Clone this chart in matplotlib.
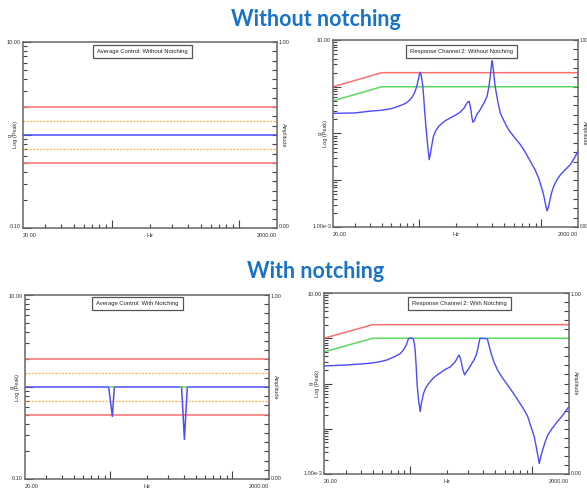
import matplotlib
matplotlib.use('Agg')
import matplotlib.pyplot as plt
from matplotlib.ticker import FixedLocator, MultipleLocator, NullFormatter

# ---- data ----
span_f = [20, 2000]
ctrl_ref = [1.0, 1.0]
abort_hi = [2.0, 2.0]
abort_lo = [0.5, 0.5]
alarm_hi = [1.41, 1.41]
alarm_lo = [0.71, 0.71]

# control with notching
notch_f = [20, 97, 104, 108, 384, 405, 428, 2000]
notch_ctrl = [1.0, 1.0, 0.48, 1.0, 1.0, 0.27, 1.0, 1.0]
notch_top = [(99, 108), (374, 425)]

# response channel limits
lim_f = [20, 50, 2000]
resp_abort = [1.0, 2.0, 2.0]
resp_limit = [0.5, 1.0, 1.0]

# response channel 2 without notching
free_f = [20, 30, 40, 50, 60, 70, 78, 84, 88, 92, 95.7, 98, 100, 101.5, 103,
          104.5, 106, 108, 110, 112, 114.5, 117, 119.5, 122, 124.5, 127, 132,
          138, 146, 155, 165, 181, 199, 219, 235, 248, 254, 258, 262, 268, 273,
          278, 285, 300, 315, 329, 345, 362, 372, 380, 388, 394, 397, 402, 409,
          418, 428, 445, 464, 500, 542, 600, 676, 750, 816, 890, 953, 1000,
          1047, 1085, 1117, 1145, 1173, 1215, 1265, 1340, 1436, 1580, 1731,
          1870, 2000]
free_g = [0.27, 0.275, 0.30, 0.315, 0.34, 0.39, 0.44, 0.51, 0.59, 0.72, 0.94,
          1.2, 1.54, 1.85, 2.04, 1.85, 1.5, 1.05, 0.6, 0.30, 0.15, 0.080, 0.045,
          0.0275, 0.036, 0.049, 0.087, 0.115, 0.143, 0.165, 0.188, 0.215, 0.245,
          0.288, 0.35, 0.45, 0.48, 0.49, 0.42, 0.30, 0.21, 0.174, 0.19, 0.26,
          0.31, 0.38, 0.47, 0.625, 0.9, 1.31, 2.1, 3.1, 3.6, 3.1, 2.14, 1.2,
          0.80, 0.45, 0.275, 0.18, 0.121, 0.085, 0.058, 0.038, 0.0254, 0.017,
          0.0112, 0.0075, 0.0049, 0.0031, 0.0022, 0.0026, 0.0035, 0.0053,
          0.0074, 0.0100, 0.0131, 0.017, 0.0215, 0.030, 0.042]

# response channel 2 with notching
ntch_f = [20, 30.7, 40, 47.6, 56, 65, 75, 84, 89, 94, 96, 98, 100, 105, 107,
          109, 111, 113, 115, 118, 122, 125, 130, 136, 143, 155, 168, 179, 196,
          216, 235, 247, 252, 258, 264, 272, 281, 292, 305, 320, 335, 350, 361,
          368, 375, 380, 420, 432, 440, 459, 485, 521, 570, 630, 700, 760, 840,
          918, 980, 1041, 1090, 1143, 1180, 1219, 1280, 1340, 1450, 1564, 1780,
          2000]
ntch_g = [0.244, 0.257, 0.27, 0.28, 0.30, 0.33, 0.39, 0.46, 0.55, 0.71, 0.85,
          0.98, 1.0, 1.0, 0.97, 0.8, 0.55, 0.25, 0.10, 0.045, 0.024, 0.038,
          0.061, 0.082, 0.10, 0.13, 0.155, 0.174, 0.206, 0.235, 0.30, 0.38,
          0.425, 0.38, 0.30, 0.20, 0.155, 0.185, 0.217, 0.27, 0.33, 0.43, 0.60,
          0.80, 0.98, 1.0, 0.98, 0.95, 0.78, 0.50, 0.31, 0.2, 0.135, 0.093,
          0.062, 0.044, 0.029, 0.019, 0.011, 0.0067, 0.0035, 0.0017, 0.0025,
          0.0034, 0.0052, 0.0072, 0.0100, 0.0131, 0.020, 0.031]

RED = '#ff6e6e'
GREEN = '#5ed85e'
BLUE = '#4b4bff'
ORANGE = '#ffb040'
GRAY = '#666666'
W, H = 587, 490

fig = plt.figure(figsize=(W / 100, H / 100), dpi=100)
plt.rcParams['font.family'] = ['Liberation Sans', 'DejaVu Sans']


def rect(l, r, t, b):
    return [l / W, 1 - b / H, (r - l) / W, (b - t) / H]


def px(x, y, s, **kw):
    kw.setdefault('fontsize', 4)
    kw.setdefault('color', '#333333')
    fig.text(x / W, 1 - y / H, s, **kw)


def panel(box, ylo, yhi, ytop_lbl, ybot_lbl, title, tpos, rsize=4):
    l, r, t, b = box
    ax = fig.add_axes(rect(l, r, t, b))
    ax.set_xscale('log')
    ax.set_yscale('log')
    ax.set_xlim(20, 2000)
    ax.set_ylim(ylo, yhi)
    for s in ax.spines.values():
        s.set_color(GRAY)
        s.set_linewidth(1.1)
    ax.xaxis.set_major_locator(FixedLocator([100, 1000]))
    ax.xaxis.set_minor_locator(FixedLocator([30, 40, 50, 60, 70, 80, 90,
                                             200, 300, 400, 500, 600, 700, 800, 900]))
    ax.xaxis.set_major_formatter(NullFormatter())
    ax.xaxis.set_minor_formatter(NullFormatter())
    ax.yaxis.set_major_formatter(NullFormatter())
    ax.yaxis.set_minor_formatter(NullFormatter())
    ax.tick_params(which='both', direction='in', color='#444444', width=0.8,
                   top=False, right=False)
    ax.tick_params(which='major', length=6)
    ax.tick_params(which='minor', length=3)
    tw = ax.twinx()
    tw.set_ylim(0, 1)
    tw.yaxis.set_major_locator(MultipleLocator(0.05))
    tw.yaxis.set_major_formatter(NullFormatter())
    tw.tick_params(direction='in', length=3.5, width=0.8, color='#444444')
    for s in tw.spines.values():
        s.set_visible(False)
    ax.set_zorder(tw.get_zorder() + 1)
    ax.patch.set_visible(False)

    # axis texts
    px(l - 2, t + 1, ytop_lbl, ha='right', va='center')
    px(l - 2, b - 1, ybot_lbl, ha='right', va='center')
    px(l, b + 7, '20.00', ha='left', va='center')
    px(r, b + 7, '2000.00', ha='right', va='center')
    px((l + r) / 2, b + 7, 'Hz', ha='center', va='center')
    px(r + 1.5, t + 1, '1.00', ha='left', va='center', fontsize=rsize)
    px(r + 1.5, b - 1, '0.00', ha='left', va='center', fontsize=rsize)
    px(r + 6, (t + b) / 2, 'Amplitude', ha='center', va='center', rotation=270)
    px(l - 13, (t + b) / 2, 'g', ha='center', va='center', rotation=90)
    px(l - 7, (t + b) / 2, 'Log (Peak)', ha='center', va='center', rotation=90)
    ax.text(tpos[0], tpos[1], title, transform=ax.transAxes, ha='center',
            va='center', fontsize=4.2, color='#222222',
            bbox=dict(boxstyle='square,pad=0.7', fc='white', ec='#555555', lw=0.9))
    return ax


# top-left: average control without notching
ax1 = panel((23, 277, 42, 228), 0.1, 10, '10.00', '0.10',
            'Average Control: Without Notching', (0.47, 0.95))
ax1.plot(span_f, abort_hi, color=RED, lw=1.1)
ax1.plot(span_f, abort_lo, color=RED, lw=1.1)
ax1.plot(span_f, alarm_hi, color=ORANGE, lw=1.0, ls=(0, (1.2, 1.2)))
ax1.plot(span_f, alarm_lo, color=ORANGE, lw=1.0, ls=(0, (1.2, 1.2)))
ax1.plot(span_f, ctrl_ref, color=BLUE, lw=1.1)

# top-right: response channel without notching
ax2 = panel((333, 578, 40, 227), 1e-3, 10, '10.00', '1.00e-3',
            'Response Channel 2: Without Notching', (0.524, 0.94), rsize=3.3)
ax2.plot(lim_f, resp_abort, color=RED, lw=1.1)
ax2.plot(lim_f, resp_limit, color=GREEN, lw=1.1)
ax2.plot(free_f, free_g, color=BLUE, lw=1.0)

# bottom-left: average control with notching
ax3 = panel((25, 269, 295, 479), 0.1, 10, '10.00', '0.10',
            'Average Control: With Notching', (0.46, 0.954))
ax3.plot(span_f, abort_hi, color=RED, lw=1.1)
ax3.plot(span_f, abort_lo, color=RED, lw=1.1)
ax3.plot(span_f, alarm_hi, color=ORANGE, lw=1.0, ls=(0, (1.2, 1.2)))
ax3.plot(span_f, alarm_lo, color=ORANGE, lw=1.0, ls=(0, (1.2, 1.2)))
ax3.plot(notch_f, notch_ctrl, color=BLUE, lw=1.1)
for f0, f1 in notch_top:
    ax3.plot([f0, f1], [1.0, 1.0], color=GREEN, lw=1.1)

# bottom-right: response channel with notching
ax4 = panel((324, 569, 293, 474), 1e-3, 10, '10.00', '1.00e-3',
            'Response Channel 2: With Notching', (0.553, 0.942))
ax4.plot(lim_f, resp_abort, color=RED, lw=1.1)
ax4.plot(lim_f, resp_limit, color=GREEN, lw=1.1)
ax4.plot(ntch_f, ntch_g, color=BLUE, lw=1.0)

# headings
px(316, 19, 'Without notching', ha='center', va='center', fontsize=15.5,
   color='#1a73c4', family=['Lato', 'DejaVu Sans'], weight='bold')
px(316, 271, 'With notching', ha='center', va='center', fontsize=15.5,
   color='#1a73c4', family=['Lato', 'DejaVu Sans'], weight='bold')

fig.savefig('out.png', dpi=100)
